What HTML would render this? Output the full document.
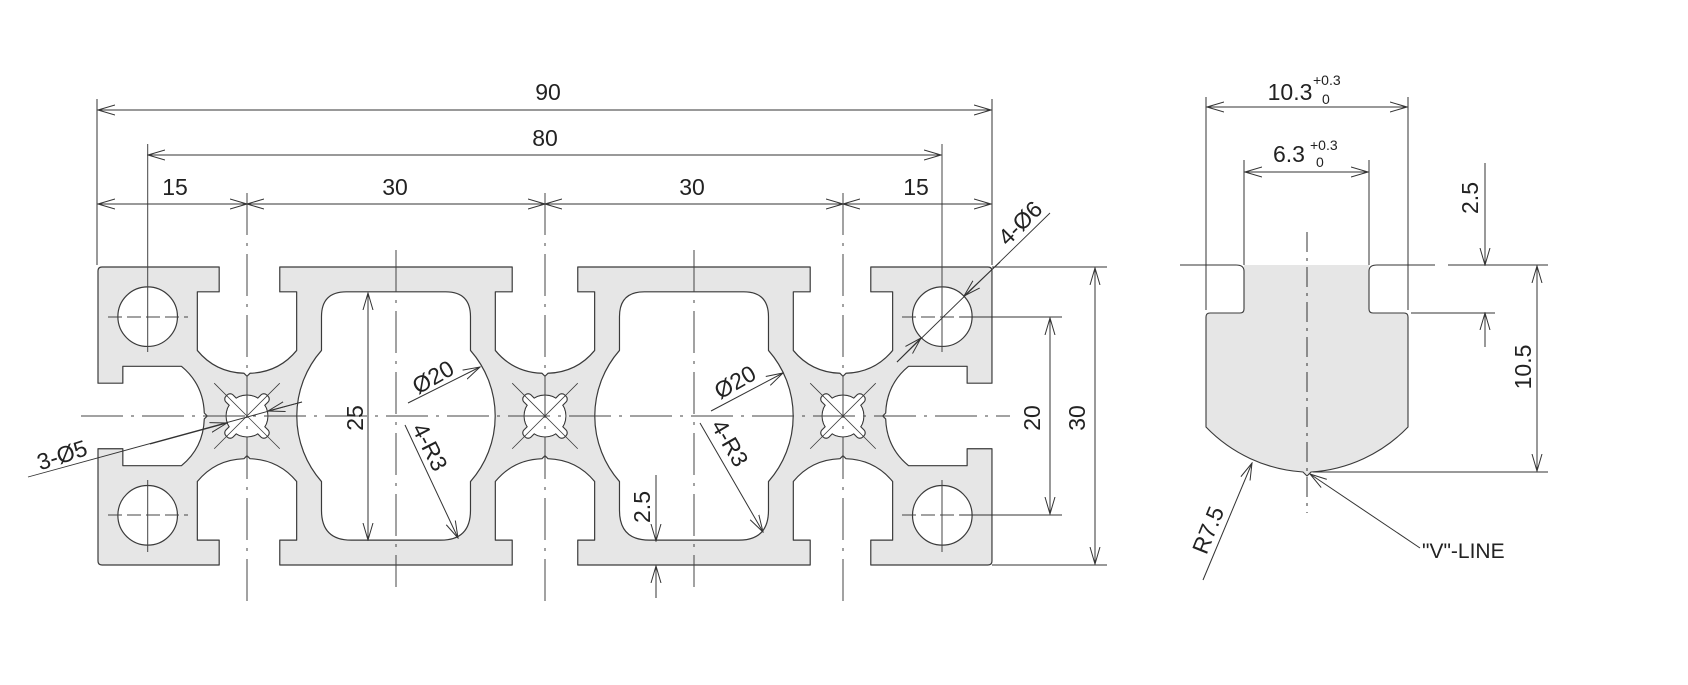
<!DOCTYPE html>
<html><head><meta charset="utf-8"><style>
html,body{margin:0;padding:0;background:#fff;}
svg{display:block;}
text{font-family:"Liberation Sans",sans-serif;fill:#222;}
</style></head><body>
<svg width="1688" height="685" viewBox="0 0 1688 685" xmlns="http://www.w3.org/2000/svg">
<defs>
<marker id="a" markerUnits="userSpaceOnUse" markerWidth="18" markerHeight="12" refX="17" refY="6" orient="auto-start-reverse">
<path d="M0,1 L17,6 L0,11" fill="none" stroke="#333" stroke-width="1"/>
</marker>
</defs>
<rect width="1688" height="685" fill="#fff"/>

<!-- PROFILE -->
<g transform="translate(98,267) scale(9.933)" stroke="#3a3a3a" stroke-width="0.12" stroke-linejoin="round">
<path fill="#e6e6e6" d="M0.4,0 L12.2,0 L12.2,2.5 L10,2.5 L10,8.4 Q11.8,10.6 14.7,10.7 L15,11 L15.3,10.7 Q18.2,10.6 20,8.4 L20,2.5 L18.3,2.5 L18.3,0
L41.7,0 L41.7,2.5 L40,2.5 L40,8.4 Q41.8,10.6 44.7,10.7 L45,11 L45.3,10.7 Q48.2,10.6 50,8.4 L50,2.5 L48.3,2.5 L48.3,0
L71.7,0 L71.7,2.5 L70,2.5 L70,8.4 Q71.8,10.6 74.7,10.7 L75,11 L75.3,10.7 Q78.2,10.6 80,8.4 L80,2.5 L77.8,2.5 L77.8,0
L89.6,0 Q90,0 90,0.4 L90,11.7 L87.5,11.7 L87.5,10 L81.6,10 Q79.4,11.8 79.3,14.7 L79,15 L79.3,15.3 Q79.4,18.2 81.6,20 L87.5,20 L87.5,18.3 L90,18.3 L90,29.6 Q90,30 89.6,30
L77.8,30 L77.8,27.5 L80,27.5 L80,21.6 Q78.2,19.4 75.3,19.3 L75,19 L74.7,19.3 Q71.8,19.4 70,21.6 L70,27.5 L71.7,27.5 L71.7,30
L48.3,30 L48.3,27.5 L50,27.5 L50,21.6 Q48.2,19.4 45.3,19.3 L45,19 L44.7,19.3 Q41.8,19.4 40,21.6 L40,27.5 L41.7,27.5 L41.7,30
L18.3,30 L18.3,27.5 L20,27.5 L20,21.6 Q18.2,19.4 15.3,19.3 L15,19 L14.7,19.3 Q11.8,19.4 10,21.6 L10,27.5 L12.2,27.5 L12.2,30
L0.4,30 Q0,30 0,29.6 L0,18.3 L2.5,18.3 L2.5,20 L8.4,20 Q10.6,18.2 10.7,15.3 L11,15 L10.7,14.7 Q10.6,11.8 8.4,10 L2.5,10 L2.5,11.7 L0,11.7 L0,0.4 Q0,0 0.4,0 Z"/>
<path fill="#fff" d="M25,2.5 L35,2.5 Q37.5,2.5 37.5,5 L37.5,8.4 A10,10 0 0 1 37.5,21.6 L37.5,24.5 Q37.5,27.5 34.5,27.5 L25.5,27.5 Q22.5,27.5 22.5,24.5 L22.5,21.6 A10,10 0 0 1 22.5,8.4 L22.5,5 Q22.5,2.5 25,2.5 Z"/>
<path fill="#fff" d="M55,2.5 L65,2.5 Q67.5,2.5 67.5,5 L67.5,8.4 A10,10 0 0 1 67.5,21.6 L67.5,24.5 Q67.5,27.5 64.5,27.5 L55.5,27.5 Q52.5,27.5 52.5,24.5 L52.5,21.6 A10,10 0 0 1 52.5,8.4 L52.5,5 Q52.5,2.5 55,2.5 Z"/>
<circle cx="5" cy="5" r="3" fill="#fff"/>
<circle cx="85" cy="5" r="3" fill="#fff"/>
<circle cx="5" cy="25" r="3" fill="#fff"/>
<circle cx="85" cy="25" r="3" fill="#fff"/>
<g id="bore" transform="translate(15,15)">
<circle r="2.1" fill="#fff"/>
<rect x="-0.5" y="-2.9" width="1" height="5.8" rx="0.4" fill="#fff" transform="rotate(45)"/>
<rect x="-0.5" y="-2.9" width="1" height="5.8" rx="0.4" fill="#fff" transform="rotate(-45)"/>
<circle r="2.05" fill="#fff" stroke="none"/>
<rect x="-0.44" y="-2.84" width="0.88" height="5.68" rx="0.35" fill="#fff" stroke="none" transform="rotate(45)"/>
<rect x="-0.44" y="-2.84" width="0.88" height="5.68" rx="0.35" fill="#fff" stroke="none" transform="rotate(-45)"/>
<line x1="-3.3" y1="-3.3" x2="3.3" y2="3.3" stroke-width="0.08"/>
<line x1="-3.3" y1="3.3" x2="3.3" y2="-3.3" stroke-width="0.08"/>
</g>
<use href="#bore" transform="translate(30,0)"/>
<use href="#bore" transform="translate(60,0)"/>
</g>

<!-- centerlines -->
<g stroke="#444" stroke-width="1" fill="none">
<line x1="81" y1="416" x2="1010" y2="416" stroke-dasharray="42 8 3 8"/>
<line x1="247" y1="193" x2="247" y2="603" stroke-dasharray="42 8 3 8"/>
<line x1="545" y1="193" x2="545" y2="603" stroke-dasharray="42 8 3 8"/>
<line x1="843" y1="193" x2="843" y2="603" stroke-dasharray="42 8 3 8"/>
<line x1="396" y1="250" x2="396" y2="587" stroke-dasharray="42 8 3 8"/>
<line x1="694" y1="250" x2="694" y2="587" stroke-dasharray="42 8 3 8"/>
<!-- hole crosses -->
<line x1="147.7" y1="144" x2="147.7" y2="352"/>
<line x1="942" y1="144" x2="942" y2="352"/>
<line x1="108" y1="317" x2="188" y2="317" stroke-dasharray="14 5"/>
<line x1="902" y1="317" x2="982" y2="317" stroke-dasharray="14 5"/>
<line x1="147.7" y1="480" x2="147.7" y2="552"/>
<line x1="942" y1="480" x2="942" y2="552"/>
<line x1="108" y1="515" x2="188" y2="515" stroke-dasharray="14 5"/>
<line x1="902" y1="515" x2="982" y2="515" stroke-dasharray="14 5"/>
</g>

<!-- dimensions left view -->
<g stroke="#333" stroke-width="1" fill="none">
<line x1="97" y1="99" x2="97" y2="265"/>
<line x1="992" y1="99" x2="992" y2="265"/>
<line x1="98" y1="110" x2="991" y2="110" marker-start="url(#a)" marker-end="url(#a)"/>
<line x1="148" y1="155" x2="941" y2="155" marker-start="url(#a)" marker-end="url(#a)"/>
<line x1="98" y1="204" x2="247" y2="204" marker-start="url(#a)" marker-end="url(#a)"/>
<line x1="247" y1="204" x2="545" y2="204" marker-start="url(#a)" marker-end="url(#a)"/>
<line x1="545" y1="204" x2="843" y2="204" marker-start="url(#a)" marker-end="url(#a)"/>
<line x1="843" y1="204" x2="991" y2="204" marker-start="url(#a)" marker-end="url(#a)"/>
<!-- right dims -->
<line x1="960" y1="317" x2="1062" y2="317"/>
<line x1="960" y1="515" x2="1062" y2="515"/>
<line x1="1050" y1="318" x2="1050" y2="514" marker-start="url(#a)" marker-end="url(#a)"/>
<line x1="992" y1="267" x2="1107" y2="267"/>
<line x1="992" y1="565" x2="1107" y2="565"/>
<line x1="1095" y1="268" x2="1095" y2="564" marker-start="url(#a)" marker-end="url(#a)"/>
<!-- 25 -->
<line x1="368" y1="293" x2="368" y2="540" marker-start="url(#a)" marker-end="url(#a)"/>
<!-- 2.5 bottom -->
<line x1="656" y1="475" x2="656" y2="541" marker-end="url(#a)"/>
<line x1="656" y1="598" x2="656" y2="566" marker-end="url(#a)"/>
<!-- leaders -->
<line x1="1050" y1="213" x2="897" y2="362" stroke-width="0.9"/>
<line x1="1000" y1="262" x2="964" y2="296" marker-end="url(#a)"/>
<line x1="897" y1="362" x2="921" y2="338" marker-end="url(#a)"/>
<line x1="28" y1="477" x2="302" y2="402" stroke-width="0.9"/>
<line x1="150" y1="444" x2="227" y2="423" marker-end="url(#a)"/>
<line x1="302" y1="402" x2="268" y2="411" marker-end="url(#a)"/>
<line x1="408" y1="403" x2="480" y2="367" marker-end="url(#a)"/>
<line x1="711" y1="411" x2="783" y2="373" marker-end="url(#a)"/>
<line x1="405" y1="425" x2="458" y2="538" marker-end="url(#a)"/>
<line x1="700" y1="423" x2="763" y2="532" marker-end="url(#a)"/>
</g>

<g font-size="23" text-anchor="middle" dominant-baseline="central">
<text x="548" y="92">90</text>
<text x="545" y="138">80</text>
<text x="175" y="187">15</text>
<text x="395" y="187">30</text>
<text x="692" y="187">30</text>
<text x="916" y="187">15</text>
<text transform="translate(1020,223) rotate(-45)">4-Ø6</text>
<text transform="translate(1032,418) rotate(-90)">20</text>
<text transform="translate(1077,418) rotate(-90)">30</text>
<text transform="translate(355,418) rotate(-90)">25</text>
<text transform="translate(642,507) rotate(-90)">2.5</text>
<text transform="translate(62,455) rotate(-18)">3-Ø5</text>
<text transform="translate(433,377) rotate(-30)">Ø20</text>
<text transform="translate(735,382) rotate(-30)">Ø20</text>
<text transform="translate(430,447) rotate(63)">4-R3</text>
<text transform="translate(730,443) rotate(60)">4-R3</text>
</g>

<!-- T-SLOT DETAIL -->
<path d="M1244,265 L1244,309 Q1244,313 1240,313 L1210,313 Q1206,313 1206,317 L1206,427 A148,148 0 0 0 1303,472 L1307,476 L1311,472 A148,148 0 0 0 1408,427 L1408,317 Q1408,313 1404,313 L1373,313 Q1369,313 1369,309 L1369,265 Z" fill="#e6e6e6" stroke="none"/>
<g stroke="#3a3a3a" stroke-width="1.1" fill="none">
<path d="M1236,265 Q1244,265 1244,271 L1244,309 Q1244,313 1240,313 L1210,313 Q1206,313 1206,317 L1206,427 A148,148 0 0 0 1303,472 L1307,476 L1311,472 A148,148 0 0 0 1408,427 L1408,317 Q1408,313 1404,313 L1373,313 Q1369,313 1369,309 L1369,271 Q1369,265 1377,265"/>
</g>
<g stroke="#333" stroke-width="1" fill="none">
<line x1="1180" y1="265" x2="1236" y2="265"/>
<line x1="1377" y1="265" x2="1435" y2="265"/>
<line x1="1448" y1="265" x2="1548" y2="265"/>
<line x1="1206" y1="97" x2="1206" y2="310"/>
<line x1="1408" y1="97" x2="1408" y2="310"/>
<line x1="1244" y1="160" x2="1244" y2="265"/>
<line x1="1369" y1="160" x2="1369" y2="265"/>
<line x1="1207" y1="107" x2="1407" y2="107" marker-start="url(#a)" marker-end="url(#a)"/>
<line x1="1245" y1="172" x2="1368" y2="172" marker-start="url(#a)" marker-end="url(#a)"/>
<line x1="1411" y1="313" x2="1495" y2="313"/>
<line x1="1485" y1="163" x2="1485" y2="265" marker-end="url(#a)"/>
<line x1="1485" y1="347" x2="1485" y2="313" marker-end="url(#a)"/>
<line x1="1313" y1="472" x2="1548" y2="472"/>
<line x1="1537" y1="266" x2="1537" y2="471" marker-start="url(#a)" marker-end="url(#a)"/>
<line x1="1307" y1="232" x2="1307" y2="513" stroke-dasharray="20 6 3 6"/>
<line x1="1203" y1="580" x2="1252" y2="463" marker-end="url(#a)"/>
<line x1="1420" y1="548" x2="1310" y2="474" marker-end="url(#a)"/>
</g>
<g font-size="23">
<text x="1290" y="100" text-anchor="middle">10.3</text>
<text x="1313" y="85" font-size="14">+0.3</text>
<text x="1322" y="104" font-size="14">0</text>
<text x="1289" y="162" text-anchor="middle">6.3</text>
<text x="1310" y="150" font-size="14">+0.3</text>
<text x="1316" y="167" font-size="14">0</text>
<text transform="translate(1470,198) rotate(-90)" text-anchor="middle" dominant-baseline="central">2.5</text>
<text transform="translate(1523,367) rotate(-90)" text-anchor="middle" dominant-baseline="central">10.5</text>
<text transform="translate(1208,530) rotate(-68)" text-anchor="middle" dominant-baseline="central">R7.5</text>
<text x="1422" y="558" font-size="21">"V"-LINE</text>
</g>
</svg>
</body></html>
